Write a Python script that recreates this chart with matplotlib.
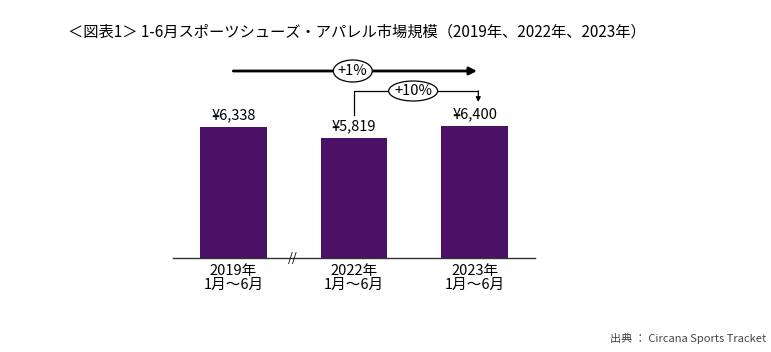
import matplotlib
matplotlib.use("Agg")
import matplotlib.pyplot as plt
from matplotlib.patches import Ellipse

plt.rcParams['font.family'] = ['Noto Sans CJK JP', 'DejaVu Sans']

categories = ["2019年\n1月～6月", "2022年\n1月～6月", "2023年\n1月～6月"]
values = [6338, 5819, 6400]
value_labels = ["¥6,338", "¥5,819", "¥6,400"]
growth_labels = ["+1%", "+10%"]
title = "＜図表1＞ 1-6月スポーツシューズ・アパレル市場規模（2019年、2022年、2023年）"
source = "出典 ： Circana Sports Tracket"

W, H = 771, 352
PX = 0.02067  # pixels per unit value
fig = plt.figure(figsize=(W / 100, H / 100), dpi=100)
ax = fig.add_axes([173 / W, 94 / H, (535 - 173) / W, (258 - 40) / H])
bar_color = "#4B1166"
x = list(range(len(values)))
ax.bar(x, values, width=0.55, color=bar_color, zorder=2)
ax.set_xlim(-0.5, 2.5)
ax.set_ylim(0, (258 - 40) / PX)
for s in ["top", "right", "left"]:
    ax.spines[s].set_visible(False)
ax.spines["bottom"].set_color("#333333")
ax.spines["bottom"].set_linewidth(1.0)
ax.set_yticks([])
ax.set_xticks(x)
ax.set_xticklabels(categories, fontsize=10.5, linespacing=1.0)
ax.tick_params(axis="x", length=0, pad=4)

for xi, v, lab in zip(x, values, value_labels):
    ax.text(xi, v + 220, lab, ha="center", va="bottom", fontsize=10.5)

# axis break marker
ax.text(0.49, 0, "//", ha="center", va="center", fontsize=9, style="italic", zorder=3)

xpx = 120.75  # pixels per category unit

# +1% arrow (2019 -> 2023)
y1 = (258 - 71) / PX
ax.annotate("", xy=(2.02, y1), xytext=(0.0, y1),
            arrowprops=dict(arrowstyle="-|>", color="black", lw=2.0, mutation_scale=11,
                            shrinkA=0, shrinkB=0))
ax.add_patch(Ellipse((0.99, y1), 39 / xpx, 22 / PX, fc="white", ec="black", lw=0.9, zorder=4))
ax.text(0.99, y1, growth_labels[0], ha="center", va="center", fontsize=10.5, zorder=5)

# +10% elbow arrow (2022 -> 2023)
y2 = (258 - 91) / PX
ax.plot([1.0, 1.0, 2.03], [(258 - 115) / PX, y2, y2], color="black", lw=0.9)
ax.annotate("", xy=(2.03, (258 - 102) / PX), xytext=(2.03, y2),
            arrowprops=dict(arrowstyle="-|>", color="black", lw=0.9, mutation_scale=7,
                            shrinkA=0, shrinkB=0))
ax.add_patch(Ellipse((1.49, y2), 49 / xpx, 20 / PX, fc="white", ec="black", lw=0.9, zorder=4))
ax.text(1.49, y2, growth_labels[1], ha="center", va="center", fontsize=10.5, zorder=5)

fig.text(68 / W, 1 - 32 / H, title, ha="left", va="center", fontsize=11)
fig.text(766 / W, 1 - 338 / H, source, ha="right", va="center", fontsize=8, color="#444444")

fig.savefig("out.png", dpi=100)
